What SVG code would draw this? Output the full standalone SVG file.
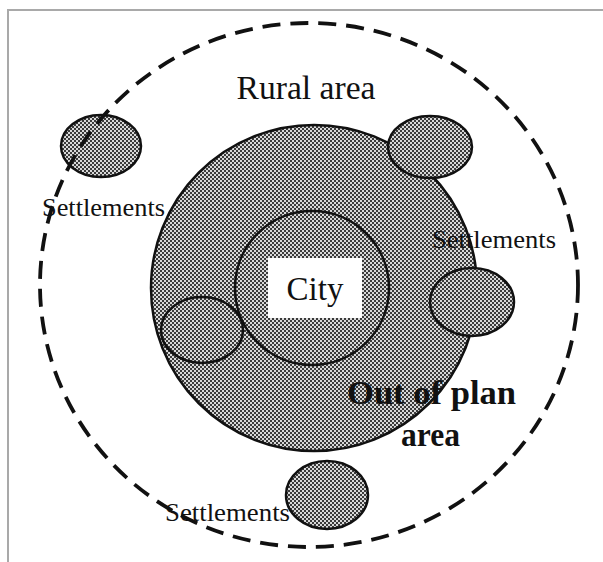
<svg xmlns="http://www.w3.org/2000/svg" width="603" height="562" viewBox="0 0 603 562">
  <defs>
    <!-- checker screen used for built-up areas -->
    <pattern id="screen" width="4" height="4" patternUnits="userSpaceOnUse">
      <rect width="4" height="4" fill="#3a3a3a"/>
      <rect x="0" y="0" width="2" height="2" fill="#d8d8d8"/>
      <rect x="2" y="2" width="2" height="2" fill="#d8d8d8"/>
    </pattern>
  </defs>
  <style>
    .frame { fill: none; stroke: #a9a9a9; stroke-width: 2; }
    .zone { fill: url(#screen); stroke: #111; stroke-width: 2.5; }
    .boundary { fill: none; stroke: #111; stroke-width: 3.8; stroke-dasharray: 18 10; }
    .lbl { font-family: "Liberation Serif", "Times New Roman", serif; fill: #111; }
    .small { font-size: 25px; }
    .large { font-size: 33px; }
    .bold { font-size: 33px; font-weight: bold; }
  </style>

  <rect width="603" height="562" fill="#ffffff"/>
  <path class="frame" d="M8 562 V10 H603"/>

  <!-- planning area around the city -->
  <g id="plan-area">
    <circle class="zone" cx="314" cy="288" r="163"/>
  </g>

  <!-- city core -->
  <g id="city">
    <circle class="zone" cx="312" cy="288" r="77"/>
    <rect x="268" y="258" width="94" height="60" fill="#ffffff"/>
    <text class="lbl large" x="315" y="300" text-anchor="middle">City</text>
  </g>

  <!-- settlements -->
  <g id="settlement-nw">
    <ellipse class="zone" cx="101" cy="146" rx="40" ry="31"/>
  </g>
  <g id="settlement-ne">
    <ellipse class="zone" cx="430" cy="147" rx="42" ry="31"/>
  </g>
  <g id="settlement-e">
    <ellipse class="zone" cx="472" cy="302" rx="42" ry="34"/>
  </g>
  <g id="settlement-w">
    <ellipse class="zone" cx="202" cy="330" rx="41" ry="33"/>
  </g>
  <g id="settlement-s">
    <ellipse class="zone" cx="327" cy="495" rx="41" ry="34"/>
  </g>

  <!-- rural area boundary -->
  <g id="rural-area">
    <ellipse class="boundary" cx="309" cy="285" rx="269" ry="262"/>
    <text class="lbl large" x="306" y="99" text-anchor="middle" textLength="139" lengthAdjust="spacingAndGlyphs">Rural area</text>
  </g>

  <!-- labels -->
  <g id="labels">
    <text class="lbl small" x="42" y="216" textLength="123" lengthAdjust="spacingAndGlyphs">Settlements</text>
    <text class="lbl small" x="432" y="248" textLength="124" lengthAdjust="spacingAndGlyphs">Settlements</text>
    <text class="lbl small" x="165" y="521" textLength="125" lengthAdjust="spacingAndGlyphs">Settlements</text>
    <text class="lbl bold" x="347" y="404" textLength="169" lengthAdjust="spacingAndGlyphs">Out of plan</text>
    <text class="lbl bold" x="401" y="446" textLength="59" lengthAdjust="spacingAndGlyphs">area</text>
  </g>
</svg>
